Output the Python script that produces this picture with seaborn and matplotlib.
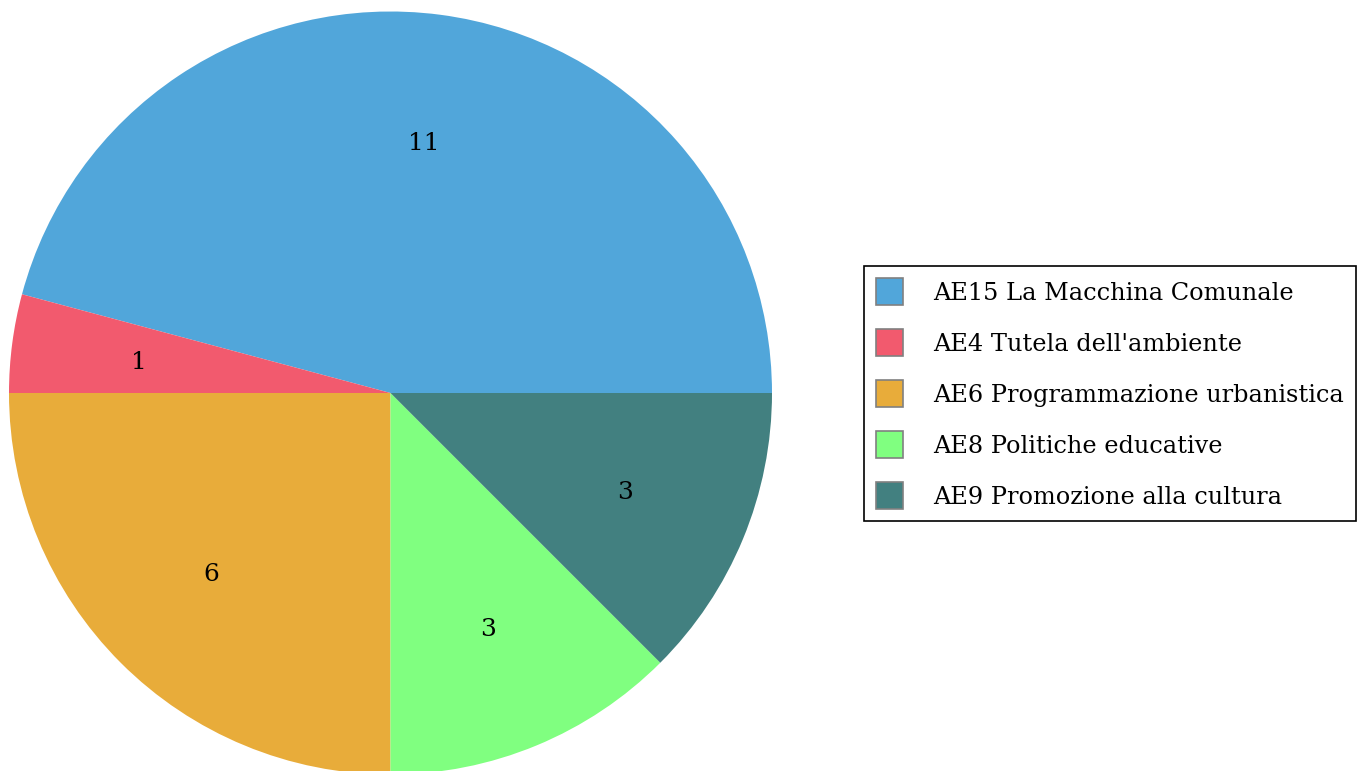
import matplotlib
matplotlib.use('Agg')
import matplotlib.pyplot as plt
import seaborn as sns
from matplotlib.patches import Patch

# dati
categorie = ['AE15 La Macchina Comunale', "AE4 Tutela dell'ambiente",
             'AE6 Programmazione urbanistica', 'AE8 Politiche educative',
             'AE9 Promozione alla cultura']
valori = [11, 1, 6, 3, 3]
colori = ['#51A6DA', '#F25A6E', '#E8AC3A', '#80FF80', '#428080']

sns.set_theme(style='white')
plt.rcParams['font.family'] = ['DejaVu Serif']

fig = plt.figure(figsize=(13.57, 7.71), dpi=100)
ax = fig.add_axes([9 / 1357, -3.5 / 771, 763 / 1357, 763 / 771])

totale = sum(valori)
palette = sns.color_palette(colori)
wedges, testi, autotesti = ax.pie(valori, colors=palette, startangle=0, counterclock=True,
                                  autopct=lambda p: '{:d}'.format(int(round(p * totale / 100))),
                                  pctdistance=0.665,
                                  textprops={'fontsize': 18, 'color': 'black', 'va': 'center_baseline'},
                                  wedgeprops={'linewidth': 0})
ax.set_xlim(-1, 1)
ax.set_ylim(-1, 1)
ax.set_aspect('auto')
ax.axis('off')

# legenda con bordi grigi
maniglie = [Patch(facecolor=c, edgecolor='gray', linewidth=1.2) for c in palette]
leg = fig.legend(maniglie, categorie, loc='upper left',
                 bbox_to_anchor=(864 / 1357, 1 - 266 / 771), borderaxespad=0,
                 fontsize=17.3, frameon=True, fancybox=False, framealpha=1,
                 handlelength=1.13, handleheight=1.35, handletextpad=1.25,
                 labelspacing=1.0, borderpad=0.5)
leg.get_frame().set_edgecolor('black')
leg.get_frame().set_linewidth(1.2)
for t in leg.get_texts():
    t.set_color('black')

fig.savefig('out.png', dpi=100)
